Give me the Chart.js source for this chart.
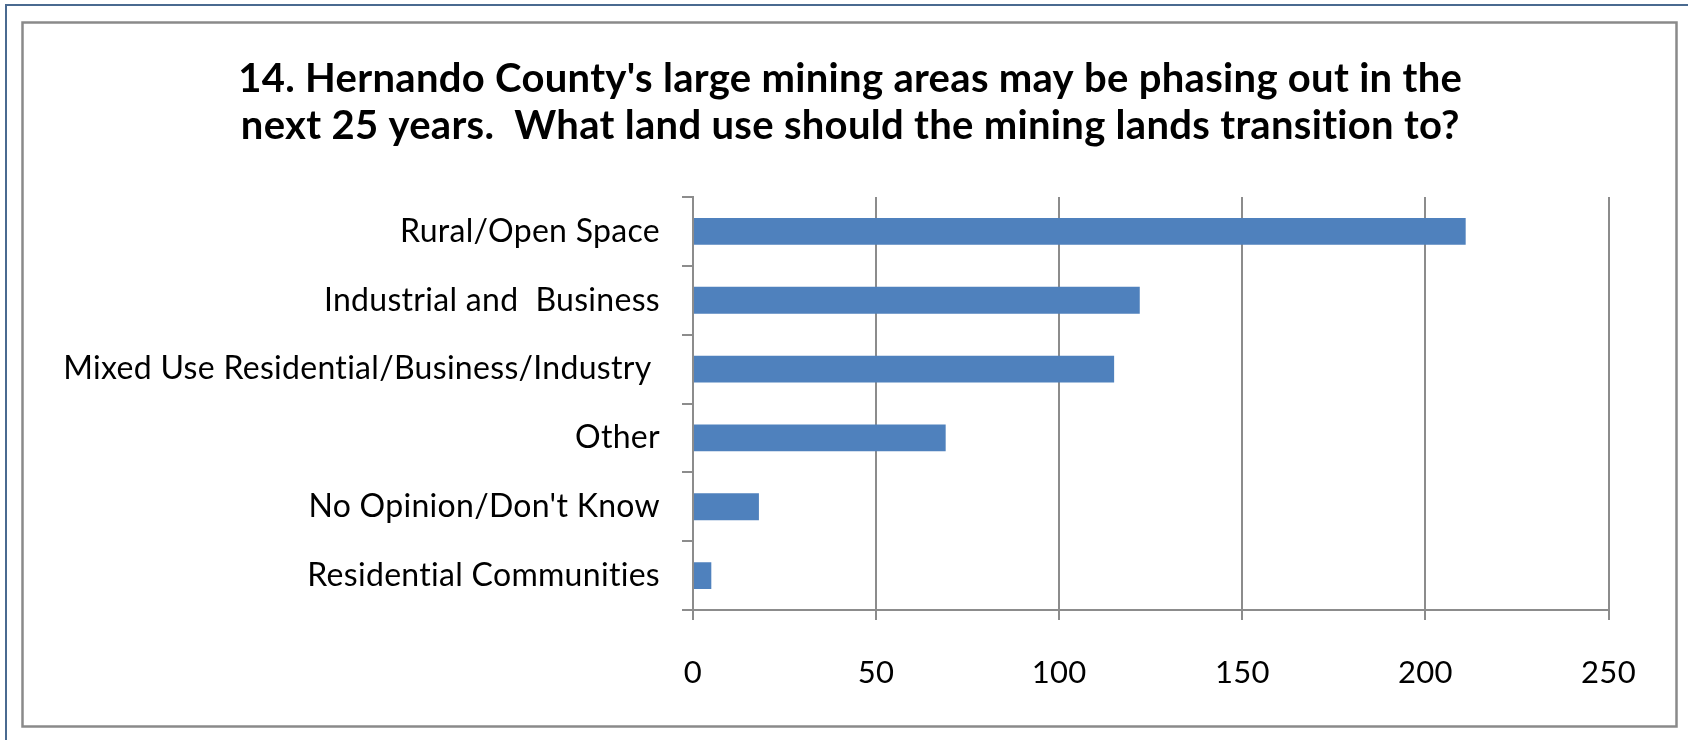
<!DOCTYPE html>
<html>
<head>
<meta charset="utf-8">
<script src="https://cdn.jsdelivr.net/npm/chart.js@4/dist/chart.umd.min.js"></script>
<style>
  html, body { margin: 0; padding: 0; background: #ffffff; }
  #wrap { width: 1688px; height: 740px; position: relative; }
</style>
</head>
<body>
<div id="wrap"><canvas id="c" width="1688" height="740"></canvas></div>
<script>
// Survey responses, top to bottom as listed
const categories = [
  "Rural/Open Space",
  "Industrial and  Business",
  "Mixed Use Residential/Business/Industry ",
  "Other",
  "No Opinion/Don't Know",
  "Residential Communities"
];
const responses = [211, 122, 115, 69, 18, 5];
const axisTicks = [0, 50, 100, 150, 200, 250];
const titleLines = [
  "14. Hernando County's large mining areas may be phasing out in the",
  "next 25 years.  What land use should the mining lands transition to?"
];

const GRID = '#8c8c8c';
const FONT = 'Lato, "Open Sans", sans-serif';

// Frame: outer slate line on the top/left edges, grey chart border inside
const framePlugin = {
  id: 'frame',
  afterLayout(chart) {
    // centre the title over the whole chart box rather than the padded one
    const t = chart.titleBlock;
    if (t) { t.left += 46; t.right += 46; }
  },
  beforeDraw(chart) {
    const ctx = chart.ctx;
    ctx.save();
    ctx.fillStyle = '#ffffff';
    ctx.fillRect(0, 0, chart.width, chart.height);
    ctx.strokeStyle = '#4a6a90';
    ctx.lineWidth = 2;
    ctx.beginPath();
    ctx.moveTo(6, chart.height + 5);
    ctx.lineTo(6, 5);
    ctx.lineTo(chart.width + 5, 5);
    ctx.stroke();
    ctx.strokeStyle = '#8a8a8a';
    ctx.lineWidth = 2.5;
    ctx.strokeRect(22.5, 22.5, 1654, 704);
    ctx.restore();
    // a touch of tracking keeps letter pairs such as "ti" unjoined
    ctx.letterSpacing = '0.3px';
  }
};

new Chart(document.getElementById('c'), {
  type: 'bar',
  data: {
    labels: categories,
    datasets: [{
      data: responses,
      backgroundColor: '#4f81bd',
      borderWidth: 0,
      barPercentage: 0.39,
      categoryPercentage: 1.0
    }]
  },
  options: {
    indexAxis: 'y',
    responsive: false,
    animation: false,
    devicePixelRatio: 1,
    layout: { padding: { left: 0, right: 79.5, top: 0, bottom: 0 } },
    plugins: {
      legend: { display: false },
      tooltip: { enabled: false },
      title: {
        display: true,
        text: titleLines,
        color: '#000000',
        font: { family: FONT, size: 40, weight: 'bold', lineHeight: 1.185 },
        padding: { top: 55, bottom: 47.2 }
      }
    },
    scales: {
      x: {
        min: 0,
        max: 250,
        afterBuildTicks(scale) { scale.ticks = axisTicks.map(v => ({ value: v })); },
        afterFit(scale) { scale.height = 130; },
        border: { display: true, color: GRID, width: 2 },
        grid: { color: GRID, lineWidth: 2, drawTicks: true, tickLength: 10 },
        ticks: {
          color: '#000000',
          font: { family: FONT, size: 31, lineHeight: 1.2 },
          padding: 34,
          maxRotation: 0
        }
      },
      y: {
        afterFit(scale) { scale.width = 693; },
        border: { display: true, color: GRID, width: 2 },
        grid: { color: GRID, lineWidth: 2, drawOnChartArea: false, drawTicks: true, tickLength: 11, offset: true },
        ticks: {
          color: '#000000',
          font: { family: FONT, size: 32 },
          padding: 22,
          autoSkip: false
        }
      }
    }
  },
  plugins: [framePlugin]
});
</script>
</body>
</html>
